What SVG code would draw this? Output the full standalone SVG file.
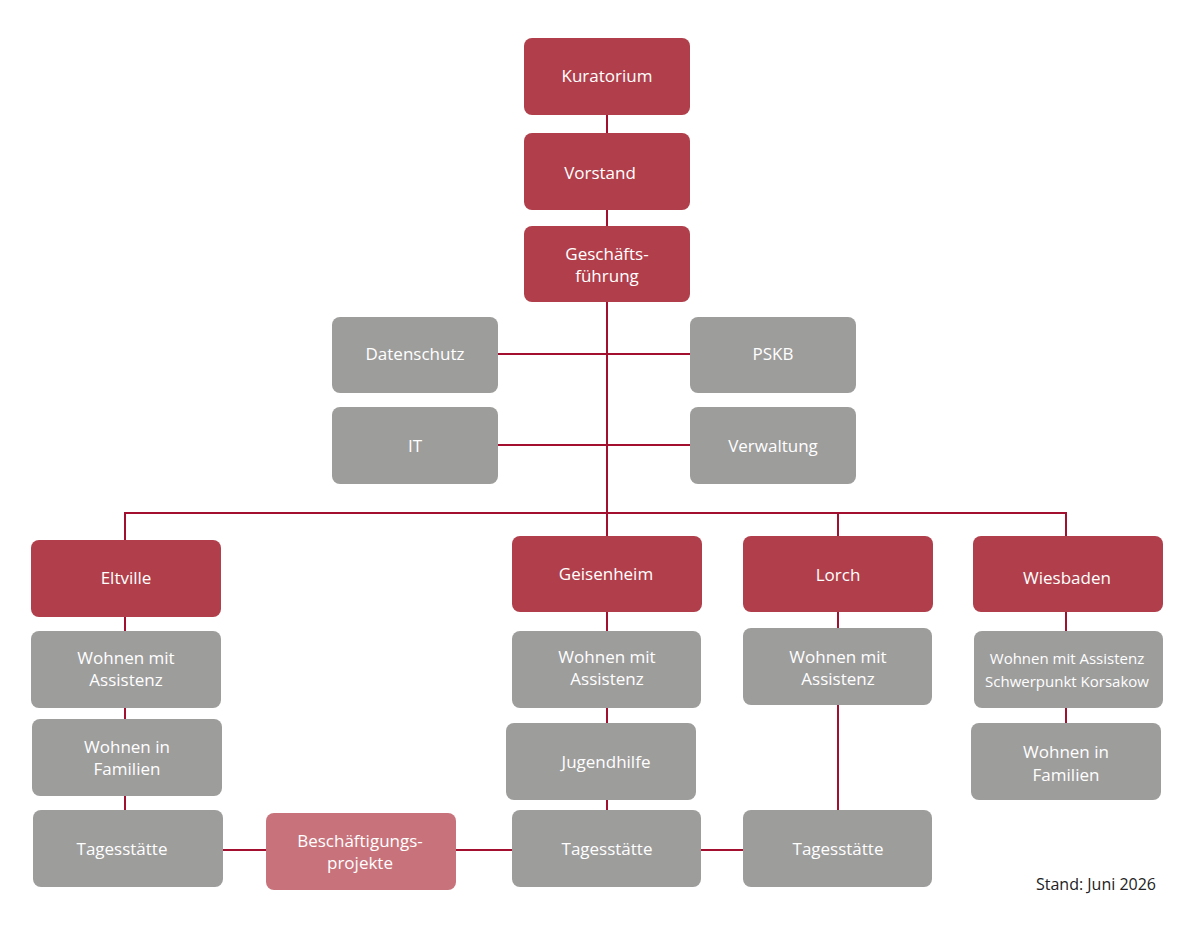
<svg xmlns="http://www.w3.org/2000/svg" width="1200" height="927" viewBox="0 0 1200 927">
<style>
.r{fill:#b03f4b}
.g{fill:#9d9d9c}
.p{fill:#c8737b}
text{font-family:"Open Sans","Noto Sans",sans-serif;font-size:17px;fill:#fff;text-anchor:middle}
.c line{stroke:#a3102f;stroke-width:2}
.s{fill:#222;text-anchor:end;font-size:16px}
</style>
<rect width="1200" height="927" fill="#fff"/>
<g class="c" id="connectors">
<line x1="607" y1="115" x2="607" y2="513"/>
<line x1="498" y1="354" x2="690" y2="354"/>
<line x1="498" y1="445" x2="690" y2="445"/>
<line x1="125" y1="513" x2="1066" y2="513"/>
<line x1="125" y1="512" x2="125" y2="810"/>
<line x1="607" y1="513" x2="607" y2="810"/>
<line x1="838" y1="512" x2="838" y2="810"/>
<line x1="1066" y1="512" x2="1066" y2="723"/>
<line x1="223" y1="850" x2="743" y2="850"/>
</g>
<g id="kuratorium"><rect class="r" x="524" y="38" width="166" height="77" rx="8"/><text x="607" y="82">Kuratorium</text></g>
<g id="vorstand"><rect class="r" x="524" y="133" width="166" height="77" rx="8"/><text x="600" y="179">Vorstand</text></g>
<g id="gf"><rect class="r" x="524" y="226" width="166" height="76" rx="8"/><text x="607" y="260">Geschäfts-</text><text x="607" y="282">führung</text></g>
<g id="datenschutz"><rect class="g" x="332" y="317" width="166" height="76" rx="8"/><text x="415" y="360">Datenschutz</text></g>
<g id="pskb"><rect class="g" x="690" y="317" width="166" height="76" rx="8"/><text x="773" y="360">PSKB</text></g>
<g id="it"><rect class="g" x="332" y="407" width="166" height="77" rx="8"/><text x="415" y="452">IT</text></g>
<g id="verwaltung"><rect class="g" x="690" y="407" width="166" height="77" rx="8"/><text x="773" y="452">Verwaltung</text></g>
<g id="eltville"><rect class="r" x="31" y="540" width="190" height="77" rx="8"/><text x="126" y="584">Eltville</text></g>
<g id="e-wma"><rect class="g" x="31" y="631" width="190" height="77" rx="8"/><text x="126" y="664">Wohnen mit</text><text x="126" y="686">Assistenz</text></g>
<g id="e-wif"><rect class="g" x="32" y="719" width="190" height="77" rx="8"/><text x="127" y="753">Wohnen in</text><text x="127" y="775">Familien</text></g>
<g id="e-tag"><rect class="g" x="33" y="810" width="190" height="77" rx="8"/><text x="122" y="855">Tagesstätte</text></g>
<g id="besch"><rect class="p" x="266" y="813" width="190" height="77" rx="8"/><text x="360" y="847">Beschäftigungs-</text><text x="360" y="869">projekte</text></g>
<g id="geisenheim"><rect class="r" x="512" y="536" width="190" height="76" rx="8"/><text x="606" y="580">Geisenheim</text></g>
<g id="g-wma"><rect class="g" x="512" y="631" width="189" height="77" rx="8"/><text x="607" y="663">Wohnen mit</text><text x="607" y="685">Assistenz</text></g>
<g id="g-jug"><rect class="g" x="506" y="723" width="190" height="77" rx="8"/><text x="606" y="768">Jugendhilfe</text></g>
<g id="g-tag"><rect class="g" x="512" y="810" width="189" height="77" rx="8"/><text x="607" y="855">Tagesstätte</text></g>
<g id="lorch"><rect class="r" x="743" y="536" width="190" height="76" rx="8"/><text x="838" y="581">Lorch</text></g>
<g id="l-wma"><rect class="g" x="743" y="628" width="189" height="77" rx="8"/><text x="838" y="663">Wohnen mit</text><text x="838" y="685">Assistenz</text></g>
<g id="l-tag"><rect class="g" x="743" y="810" width="189" height="77" rx="8"/><text x="838" y="855">Tagesstätte</text></g>
<g id="wiesbaden"><rect class="r" x="973" y="536" width="190" height="76" rx="8"/><text x="1067" y="584">Wiesbaden</text></g>
<g id="w-wma"><rect class="g" x="974" y="631" width="189" height="77" rx="8"/><text x="1067" y="664" style="font-size:15px">Wohnen mit Assistenz</text><text x="1067" y="687" style="font-size:15px">Schwerpunkt Korsakow</text></g>
<g id="w-wif"><rect class="g" x="971" y="723" width="190" height="77" rx="8"/><text x="1066" y="758">Wohnen in</text><text x="1066" y="781">Familien</text></g>
<text class="s" x="1156" y="890">Stand: Juni 2026</text>
</svg>
